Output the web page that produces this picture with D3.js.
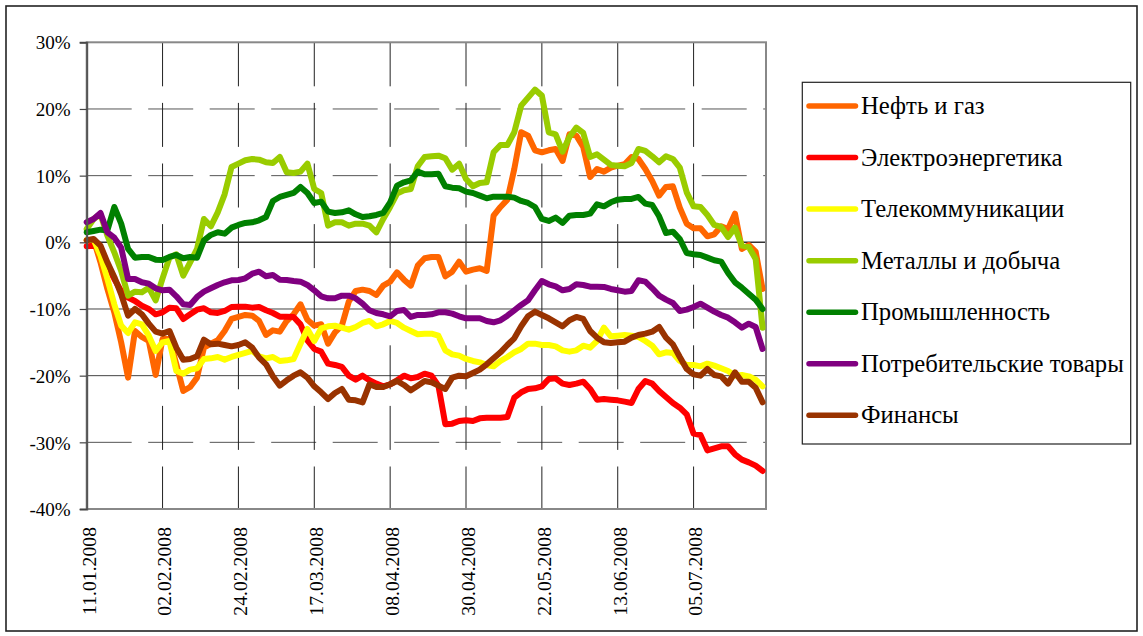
<!DOCTYPE html>
<html><head><meta charset="utf-8">
<script src="https://cdn.jsdelivr.net/npm/d3@7"></script>
<style>
body{margin:0;background:#fff}
svg{display:block}
text{font-family:"Liberation Serif","Tinos","Times New Roman","DejaVu Serif","Noto Serif",serif;fill:#000}
</style>
</head><body>
<svg id="chart" width="1143" height="636"></svg>
<script>
// ---- data ----
const dates = ["11.01","13.01","15.01","17.01","19.01","21.01","23.01","25.01","27.01","29.01",
"31.01","02.02","04.02","06.02","08.02","10.02","12.02","14.02","16.02","18.02",
"20.02","22.02","24.02","26.02","28.02","01.03","03.03","05.03","07.03","09.03",
"11.03","13.03","15.03","17.03","19.03","21.03","23.03","25.03","27.03","29.03",
"31.03","02.04","04.04","06.04","08.04","10.04","12.04","14.04","16.04","18.04",
"20.04","22.04","24.04","26.04","28.04","30.04","02.05","04.05","06.05","08.05",
"10.05","12.05","14.05","16.05","18.05","20.05","22.05","24.05","26.05","28.05",
"30.05","01.06","03.06","05.06","07.06","09.06","11.06","13.06","15.06","17.06",
"19.06","21.06","23.06","25.06","27.06","29.06","01.07","03.07","05.07","07.07",
"09.07","11.07","13.07","15.07","17.07","19.07","21.07","23.07","25.07"];

const xTickLabels = ["11.01.2008","02.02.2008","24.02.2008","17.03.2008","08.04.2008","30.04.2008","22.05.2008","13.06.2008","05.07.2008"];
const axisEnd = "26.07.2008";
const yTicks = [30,20,10,0,-10,-20,-30,-40];

const seriesNames = ["Нефть и газ","Электроэнергетика","Телекоммуникации","Металлы и добыча","Промышленность","Потребительские товары","Финансы"];

const oilGas = [0.3,0.4,-3,-7,-10.5,-15,-20.3,-13.3,-14.2,-14.8,
-19.9,-14.5,-14.5,-18.3,-22.3,-21.7,-20.3,-15.8,-15.2,-14.7,
-13.3,-11.5,-11.2,-10.9,-11,-11.8,-13.9,-13.2,-13.4,-11.8,
-10.8,-9.3,-11.6,-12.5,-12.3,-15.2,-13.5,-12.5,-8.9,-7.3,
-7.1,-7.3,-7.9,-6.5,-5.9,-4.5,-5.6,-6.5,-3.5,-2.4,
-2.2,-2.2,-5.1,-4.4,-2.9,-4.4,-4.1,-3.9,-4.3,4.0,
5.3,6.4,11,16.5,16,13.8,13.5,13.8,14,12.2,
16.2,16,14.3,9.8,11,10.6,11.2,11.5,11.7,12.8,
12.5,11,9.2,7,8.3,8.4,5.2,2.8,2.1,2.1,
0.9,1.2,2.4,2,4.3,-1,-0.4,-1.4,-7];

const power = [-0.6,-0.5,-1,-3.5,-5.5,-7.3,-8.3,-8.8,-9.5,-10,
-10.8,-10.5,-9.8,-9.9,-11.5,-10.8,-10.1,-9.9,-10.5,-10.6,
-10.3,-9.7,-9.65,-9.65,-9.8,-9.7,-10.2,-10.6,-11.15,-11.15,
-11.2,-12.3,-14.7,-16,-16.4,-18.2,-18.4,-18.7,-20,-20.6,
-20,-20.7,-21.2,-21.6,-21.3,-20.7,-20,-20.4,-20.2,-19.7,
-20,-21.5,-27.3,-27.2,-26.8,-26.7,-26.8,-26.4,-26.3,-26.3,
-26.3,-26.2,-23.3,-22.5,-22,-21.9,-21.6,-20.5,-20.4,-21.2,
-21.4,-21.2,-20.9,-22,-23.6,-23.5,-23.6,-23.7,-23.9,-24.1,
-22,-20.8,-21.2,-22.3,-23.2,-24.1,-24.8,-25.8,-28.7,-28.9,
-31.2,-30.9,-30.6,-30.6,-31.8,-32.6,-33,-33.5,-34.3];

const telecom = [0.3,0.4,-2,-5.5,-9.3,-12.5,-13.6,-12,-12.3,-14,
-16.3,-15,-14.8,-19.3,-19.7,-19.1,-18.9,-17.5,-17.4,-17.2,
-17.6,-17.2,-16.9,-16.6,-16.3,-17.1,-17.4,-17.2,-17.8,-17.7,
-17.5,-15.2,-13,-14.8,-12.9,-12.6,-12.5,-12.8,-13.1,-12.7,
-12.1,-11.8,-12.6,-12.3,-11.8,-12.1,-12.8,-13.3,-13.8,-13.7,
-13.7,-14,-16.2,-16.8,-17,-17.5,-17.8,-18,-18.4,-18.6,
-17.8,-17.2,-16.5,-16,-15.2,-15.2,-15.4,-15.4,-15.6,-16.2,
-16.4,-16.2,-15.5,-15.8,-14.8,-12.8,-14.1,-14,-13.9,-14,
-14.2,-14.8,-15.5,-16.8,-16.5,-16.6,-17.8,-18.4,-18.4,-18.6,
-18.2,-18.5,-18.9,-19.3,-20,-19.9,-20.1,-20.6,-21.6];

const metals = [2,3.5,4.2,1,-1.5,-4.3,-8,-7.4,-7.5,-6.8,
-8.7,-5.4,-2.3,-1.8,-5,-3,-1,3.5,2.4,4.5,
7.2,11.3,11.8,12.3,12.5,12.4,12,11.9,12.8,10.5,
10.4,10.6,11.8,8,7.4,2.5,3,3,2.5,2.8,
2.8,2.5,1.5,3.5,5.3,7.3,7.8,8,11.4,12.8,
12.9,13,12.6,10.9,11.8,9.5,8.4,8.9,9,13.5,
14.6,14.6,16.5,20.5,21.7,22.9,22,16.5,16.2,13.6,
15.8,17.2,16.4,12.8,13.2,12.4,11.6,11.5,11.4,11.9,
14,13.7,12.9,12,12.9,12.5,11.2,7.5,5.4,5.3,
4.1,2.6,2.3,0.8,2.2,-0.5,-0.7,-2.5,-12.8];

const industry = [1.5,1.7,1.9,1.8,5.3,2.8,-1,-2.3,-2.2,-2.2,
-2.6,-2.65,-2.2,-1.9,-2.4,-2.2,-2.3,0.3,1.1,1.5,
1.3,2.2,2.6,2.9,3,3.3,3.8,6.2,6.8,7.1,
7.4,8.3,7.4,5.9,6.1,4.6,4.4,4.5,4.8,4.2,
3.8,3.9,4.1,4.4,6,8.5,9,9.3,10.6,10.2,
10.2,10.3,8.4,8.2,8.1,7.6,7.4,7,6.6,6.85,
6.85,6.85,6.7,6.2,5.9,5.3,3.5,3.2,3.7,2.9,
4,4.1,4.1,4.3,5.7,5.4,6,6.4,6.5,6.5,
6.8,5.8,5.6,3.9,1.4,1.6,0.5,-1.6,-1.8,-1.9,
-2.3,-2.7,-2.9,-4.6,-6,-6.8,-7.7,-8.6,-10];

const consumer = [3,3.5,4.4,1.5,0.7,-0.8,-5.5,-5.5,-6,-6.2,
-6.9,-7.2,-7.1,-8.1,-9.3,-9.4,-8.2,-7.4,-6.9,-6.4,
-6,-5.7,-5.65,-5.4,-4.7,-4.4,-5.1,-4.9,-5.6,-5.65,
-5.8,-5.9,-6.4,-7.2,-8.1,-8.4,-8.4,-8,-8,-8.4,
-9.2,-10.2,-10.6,-10.8,-11.1,-10.3,-10.15,-11.2,-10.9,-10.9,
-10.8,-10.5,-10.5,-10.7,-11.1,-11.4,-11.4,-11.4,-11.8,-12,
-11.7,-11,-10.2,-9.4,-8.7,-7.2,-5.8,-6.3,-6.6,-7.2,
-7,-6.3,-6.4,-6.65,-6.65,-6.7,-7,-7.2,-7.4,-7.3,
-5.7,-5.9,-6.9,-8,-8.6,-9.1,-10.3,-10.1,-9.7,-9.2,
-9.8,-10.4,-10.9,-11.3,-12,-12.8,-12.2,-12.7,-16];

const finance = [0.3,0.5,-0.5,-3,-5.2,-7.8,-11,-10,-10.8,-12.2,
-13.4,-13.7,-13.3,-15.8,-17.6,-17.5,-17.1,-14.6,-15.3,-15.2,
-15.4,-15.6,-15.4,-15,-15.8,-17.3,-18.3,-20.1,-21.5,-20.7,
-20,-19.5,-20.3,-21.6,-22.5,-23.5,-22.6,-22,-23.6,-23.7,
-24,-21.3,-21.7,-21.7,-21.3,-20.8,-21.4,-22.2,-21.5,-20.8,
-21,-21.5,-22,-20.3,-20,-20.1,-19.6,-19.1,-18.3,-17.4,
-16.5,-15.4,-14.4,-12.6,-11.1,-10.4,-10.9,-11.4,-12,-12.6,
-11.7,-11.2,-11.5,-13.3,-14.3,-15,-15.1,-15,-14.9,-14.3,
-13.9,-13.7,-13.4,-12.7,-14.3,-15.3,-17.2,-19,-19.8,-20,
-19,-19.9,-20.1,-21.2,-19.5,-20.9,-20.9,-21.8,-24];

const seriesValues = [oilGas, power, telecom, metals, industry, consumer, finance];
const seriesColors = ["#FF6600","#FF0000","#FFFF00","#99CC00","#008000","#800080","#993300"];

// ---- drawing ----
const svg = d3.select("#chart");
const parseD = d3.utcParse("%d.%m.%Y");
const X = dates.map(s => parseD(s + ".2008"));

const pL = 86.7, pR = 766, pT = 42.3, pB = 509;
const x = d3.scaleUtc().domain([parseD(xTickLabels[0]), parseD(axisEnd)]).range([pL, pR]);
const y = d3.scaleLinear().domain([-40, 30]).range([pB, pT]);

// fit font size so that a sample string gets the width seen in the reference
function fitSize(sample, target, base){
  const t = svg.append("text").style("font-size", base+"px").text(sample);
  const w = t.node().getComputedTextLength();
  t.remove();
  return w > 0 ? base*target/w : base;
}
const xFs = fitSize("11.01.2008", 88, 19.5);
const yFs = fitSize("-10%", 41.3, 19.5);
const legFs = fitSize("Потребительские товары", 263, 24);

svg.append("rect").attr("width",1143).attr("height",636).attr("fill","#fff");
svg.append("rect").attr("x",6).attr("y",6).attr("width",1131).attr("height",625)
  .attr("fill","none").attr("stroke","#222").attr("stroke-width",1.6);

const dashedH = [20,10,-30], solidH = [-10,-20];
svg.append("g").selectAll("line").data(dashedH).join("line")
  .attr("x1",pL).attr("x2",pR).attr("y1",d=>y(d)).attr("y2",d=>y(d))
  .attr("stroke","#555").attr("stroke-width",1).attr("stroke-dasharray","45,16.5");
svg.append("g").selectAll("line").data(solidH).join("line")
  .attr("x1",pL).attr("x2",pR).attr("y1",d=>y(d)).attr("y2",d=>y(d))
  .attr("stroke","#444").attr("stroke-width",1);

const tickDates = xTickLabels.map(parseD);
svg.append("g").selectAll("line").data(tickDates.slice(1)).join("line")
  .attr("x1",d=>x(d)).attr("x2",d=>x(d)).attr("y1",pT).attr("y2",pB)
  .attr("stroke","#222").attr("stroke-width",1).attr("stroke-dasharray","44,16.6");

svg.append("line").attr("x1",pL).attr("x2",pR).attr("y1",y(0)).attr("y2",y(0))
  .attr("stroke","#333").attr("stroke-width",1.6);

svg.append("rect").attr("x",pL).attr("y",pT).attr("width",pR-pL).attr("height",pB-pT)
  .attr("fill","none").attr("stroke","#888").attr("stroke-width",2);

const line = d3.line().x((d,i)=>x(X[i])).y(d=>y(d));
svg.append("g").selectAll("path").data(seriesValues).join("path")
  .attr("d", line).attr("fill","none")
  .attr("stroke",(d,i)=>seriesColors[i]).attr("stroke-width",6)
  .attr("stroke-linejoin","round").attr("stroke-linecap","round");

const yAxis = d3.axisLeft(y).tickValues(yTicks).tickSize(7).tickFormat(d=>d+"%");
const ga = svg.append("g").attr("transform",`translate(${pL},0)`).call(yAxis);
ga.attr("font-family",null).attr("font-size",null);
ga.select(".domain").attr("stroke","#555").attr("stroke-width",2);
ga.selectAll(".tick line").attr("stroke","#444").attr("stroke-width",1.2);
ga.selectAll(".tick text").attr("x",-16).attr("dy","0.35em")
  .style("font-size",yFs+"px").attr("fill","#000");

svg.append("g").selectAll("text").data(tickDates).join("text")
  .attr("transform",d=>`translate(${x(d)},527) rotate(-90)`)
  .attr("text-anchor","end").attr("dy","0.45em")
  .style("font-size",xFs+"px")
  .text((d,i)=>xTickLabels[i]);

svg.append("rect").attr("x",802.3).attr("y",82.3).attr("width",328.4).attr("height",361.7)
  .attr("fill","#fff").attr("stroke","#222").attr("stroke-width",1.2);
const ly = d3.scalePoint().domain(seriesNames).range([106, 415.3]);
const lg = svg.append("g").selectAll("g").data(seriesNames).join("g")
  .attr("transform",d=>`translate(0,${ly(d)})`);
lg.append("line").attr("x1",809).attr("x2",855.5).attr("y1",0).attr("y2",0)
  .attr("stroke",(d,i)=>seriesColors[i]).attr("stroke-width",5.5).attr("stroke-linecap","round");
lg.append("text").attr("x",861).attr("dy","0.33em").style("font-size",legFs+"px").text(d=>d);
</script>
</body></html>
